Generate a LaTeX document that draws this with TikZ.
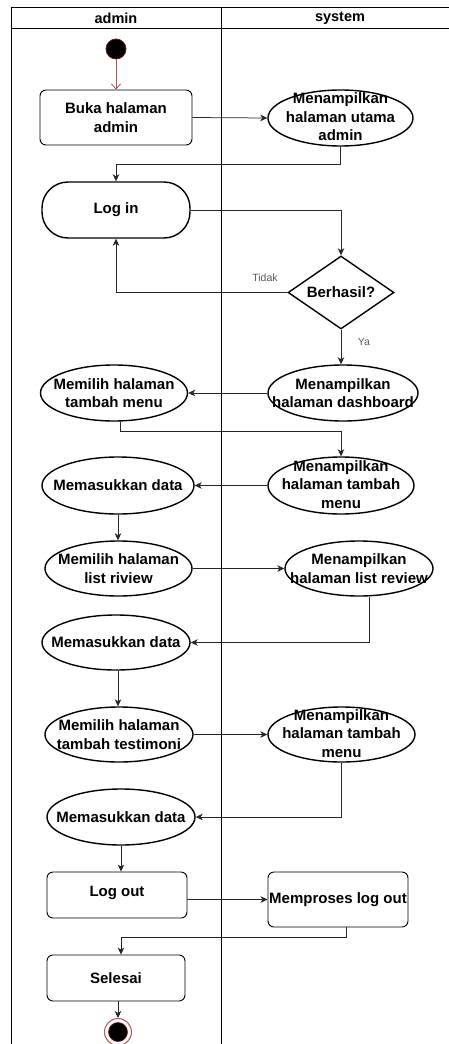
\documentclass[tikz,border=0pt]{standalone}
\usepackage{fontspec}
\setmainfont{Liberation Sans}
\usetikzlibrary{shapes.geometric,arrows.meta}
\definecolor{startred}{RGB}{184,84,80}
\definecolor{darkred}{RGB}{110,20,20}
\definecolor{lblgray}{RGB}{90,90,90}
\begin{document}
\begin{tikzpicture}[x=1pt,y=-1pt,
  lane/.style={line width=0.8pt, draw=black},
  ell/.style={ellipse, draw=black, line width=1.4pt, inner sep=0pt, fill=white},
  rbox/.style={rectangle, draw=black, line width=0.9pt, rounded corners=6pt, inner sep=0pt, fill=white},
  stad/.style={rectangle, draw=black, line width=1.4pt, rounded corners=26pt, inner sep=0pt, fill=white},
  dec/.style={diamond, draw=black, line width=1.4pt, inner sep=0pt, fill=white},
  txt/.style={font=\bfseries\fontsize{15}{18.5}\selectfont, align=center, inner sep=0pt},
  head/.style={font=\bfseries\fontsize{14.5}{17}\selectfont, inner sep=0pt},
  lbl/.style={font=\fontsize{10.5}{12}\selectfont, text=lblgray, inner sep=0pt},
  arr/.style={draw=black!85, line width=0.75pt, -{Stealth[length=7pt,width=6.5pt,inset=2pt]}},
  startarr/.style={draw=startred, line width=0.8pt, -{Straight Barb[length=5pt,width=9pt]}}
]
\useasboundingbox (0,0) rectangle (449,1044);
\fill[white] (0,0) rectangle (449,1044);

% swimlanes
\coordinate (tl) at (11,7);
\coordinate (tr) at (449,7);
\coordinate (hl) at (11,28);
\coordinate (hr) at (449,28);
\coordinate (bl) at (11,1044);
\coordinate (dt) at (221,7);
\coordinate (db) at (221,1044);
\draw[lane] (tr) -- (tl) -- (bl);
\draw[lane] (hl) -- (hr);
\draw[lane] (dt) -- (db);
\node[head] (hadmin) at (116,18) {admin};
\node[head] (hsystem) at (340,18) {system};

% start
\node[circle, fill=black, draw=darkred, line width=0.8pt, minimum size=20pt, inner sep=0pt] (start) at (116,49) {};

% shapes
\node[rbox, minimum width=152pt, minimum height=55pt] (buka) at (116,117.5) {};
\node[txt] (buka-t) at (buka) {Buka halaman\\admin};

\node[ell, minimum width=145pt, minimum height=56pt] (utama) at (340.5,118) {};
\node[txt] (utama-t) at (340.5,117) {Menampilkan\\halaman utama\\admin};

\node[stad, minimum width=148pt, minimum height=56pt] (login) at (116,210) {};
\node[txt] (login-t) at (login) {Log in};

\node[dec, minimum width=106pt, minimum height=73pt] (dcs) at (341,292.5) {};
\node[txt] (dcs-t) at (dcs) {Berhasil?};

\node[ell, minimum width=150pt, minimum height=56pt] (dash) at (343,393) {};
\node[txt] (dash-t) at (dash) {Menampilkan\\halaman dashboard};

\node[ell, minimum width=147pt, minimum height=56pt] (pilih1) at (114,393) {};
\node[txt] (pilih1-t) at (pilih1) {Memilih halaman\\tambah menu};

\node[ell, minimum width=146pt, minimum height=57pt] (tampil2) at (341,485.5) {};
\node[txt] (tampil2-t) at (341,484.5) {Menampilkan\\halaman tambah\\menu};

\node[ell, minimum width=152pt, minimum height=57pt] (data1) at (118,485.5) {};
\node[txt] (data1-t) at (data1) {Memasukkan data};

\node[ell, minimum width=147pt, minimum height=55pt] (pilih2) at (118.5,568.5) {};
\node[txt] (pilih2-t) at (pilih2) {Memilih halaman\\list riview};

\node[ell, minimum width=148pt, minimum height=55pt] (review) at (359,568.5) {};
\node[txt] (review-t) at (review) {Menampilkan\\halaman list review};

\node[ell, minimum width=148pt, minimum height=55pt] (data2) at (116,642.5) {};
\node[txt] (data2-t) at (data2) {Memasukkan data};

\node[ell, minimum width=148pt, minimum height=55pt] (pilih3) at (119,734.5) {};
\node[txt] (pilih3-t) at (pilih3) {Memilih halaman\\tambah testimoni};

\node[ell, minimum width=147pt, minimum height=55pt] (tampil3) at (341.5,734.5) {};
\node[txt] (tampil3-t) at (341.5,733.5) {Menampilkan\\halaman tambah\\menu};

\node[ell, minimum width=148pt, minimum height=56pt] (data3) at (121,817) {};
\node[txt] (data3-t) at (data3) {Memasukkan data};

\node[rbox, minimum width=140pt, minimum height=46pt] (logout) at (117,895) {};
\node[txt] (logout-t) at (117,893) {Log out};

\node[rbox, minimum width=140pt, minimum height=55pt] (proses) at (338,899.5) {};
\node[txt] (proses-t) at (338,900) {Memproses log out};

\node[rbox, minimum width=138pt, minimum height=46pt] (selesai) at (116,978) {};
\node[txt] (selesai-t) at (selesai) {Selesai};

% end
\node[circle, draw=startred, line width=1pt, fill=white, minimum size=27pt, inner sep=0pt] (endo) at (118,1032) {};
\node[circle, fill=black, draw=darkred, line width=0.6pt, minimum size=19pt, inner sep=0pt] (endi) at (endo) {};

% connectors
\draw[startarr] (start) -- (buka.north);
\draw[arr] (buka.east) -- (utama.west);
\draw[arr] (utama.south) -- (utama.south |- 0,164) -| (login.north);
\draw[arr] (login.east) -| (dcs.north);
\draw[arr] (dcs.west) -| (login.south);
\node[lbl] (tidak) at (265,278) {Tidak};
\draw[arr] (dcs.south) -- (dcs.south |- dash.north);
\node[lbl] (ya) at (364,342) {Ya};
\draw[arr] (dash.west) -- (pilih1.east);
\draw[arr] ([xshift=6pt]pilih1.south) -- ([xshift=6pt]pilih1.south |- 0,431) -| (tampil2.north);
\draw[arr] (tampil2.west) -- (data1.east);
\draw[arr] (data1.south) -- (data1.south |- pilih2.north);
\draw[arr] (pilih2.east) -- (review.west);
\draw[arr] ([xshift=10pt]review.south) |- (data2.east);
\draw[arr] ([xshift=2pt]data2.south) -- ([xshift=2pt]data2.south |- pilih3.north);
\draw[arr] (pilih3.east) -- (tampil3.west);
\draw[arr] (tampil3.south) |- (data3.east);
\draw[arr] (data3.south) -- (data3.south |- logout.north);
\draw[arr] (logout.east |- proses.west) -- (proses.west);
\draw[arr] ([xshift=8pt]proses.south) -- ([xshift=8pt]proses.south |- 0,937) -| ([xshift=5pt]selesai.north);
\draw[arr] ([xshift=2pt]selesai.south) -- ([xshift=2pt]selesai.south |- endo.north);
\end{tikzpicture}
\end{document}
